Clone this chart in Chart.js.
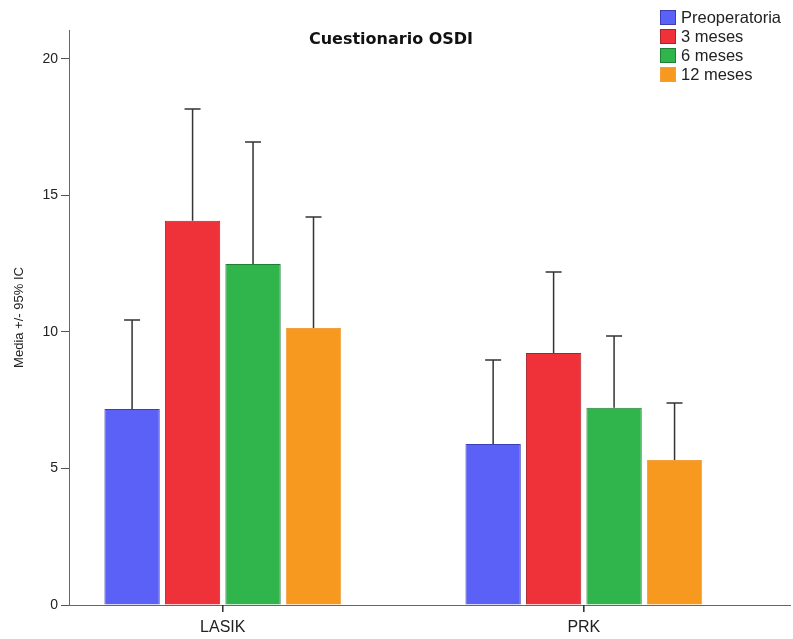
<!DOCTYPE html>
<html lang="es">
<head>
    <meta charset="UTF-8">
    <title>Cuestionario OSDI</title>
    <script src="https://cdn.jsdelivr.net/npm/chart.js"></script>
    <style>
        body { margin: 0; background: #fff; }
        #osdiChart { display: block; }
    </style>
</head>
<body>
<canvas id="osdiChart" width="793" height="639"></canvas>

<script>
    const groups = ['LASIK', 'PRK'];
    const series = ['Preoperatoria', '3 meses', '6 meses', '12 meses'];
    const preop = [7.18, 5.90];
    const mes3 = [14.07, 9.23];
    const mes6 = [12.49, 7.22];
    const mes12 = [10.15, 5.31];
    const preopUpper = [10.44, 8.97];
    const mes3Upper = [18.17, 12.20];
    const mes6Upper = [16.96, 9.85];
    const mes12Upper = [14.21, 7.40];
    const yTicks = [0, 5, 10, 15, 20];

    const fills = ['#5b60f6', '#ef323a', '#2fb54b', '#f8991f'];
    const borders = ['#3b3fb5', '#a8232a', '#1f7d34', '#f0a040'];

    const values = [preop, mes3, mes6, mes12];
    const uppers = [preopUpper, mes3Upper, mes6Upper, mes12Upper];

    // upper whisker of the 95% CI, drawn from the top of each bar
    const errorBars = {
        id: 'errorBars',
        afterDatasetsDraw(chart) {
            const ctx = chart.ctx;
            const y = chart.scales.y;
            ctx.save();
            ctx.strokeStyle = '#333';
            ctx.lineWidth = 1.5;
            chart.data.datasets.forEach((ds, i) => {
                const meta = chart.getDatasetMeta(i);
                meta.data.forEach((bar, j) => {
                    const top = y.getPixelForValue(uppers[i][j]);
                    ctx.beginPath();
                    ctx.moveTo(bar.x, bar.y);
                    ctx.lineTo(bar.x, top);
                    ctx.moveTo(bar.x - 8, top);
                    ctx.lineTo(bar.x + 8, top);
                    ctx.stroke();
                });
            });
            ctx.restore();
        }
    };

    const extras = {
        id: 'extras',
        afterDraw(chart) {
            const ctx = chart.ctx;
            const x = chart.scales.x;
            const bottom = chart.chartArea.bottom;
            ctx.save();

            // category tick marks under the x axis
            ctx.strokeStyle = '#333';
            ctx.lineWidth = 1.5;
            groups.forEach((g, j) => {
                const px = x.getPixelForValue(j);
                ctx.beginPath();
                ctx.moveTo(px, bottom);
                ctx.lineTo(px, bottom + 7);
                ctx.stroke();
            });

            ctx.fillStyle = '#111';
            ctx.font = 'bold 16px "DejaVu Sans", Verdana, sans-serif';
            ctx.textAlign = 'center';
            ctx.textBaseline = 'middle';
            ctx.fillText('Cuestionario OSDI', 391, 40);

            // legend, top right
            ctx.font = '16.5px "Liberation Sans", Arial, sans-serif';
            ctx.textAlign = 'left';
            series.forEach((name, i) => {
                const top = 10 + i * 19;
                ctx.fillStyle = fills[i];
                ctx.fillRect(660, top, 16, 15);
                ctx.strokeStyle = borders[i];
                ctx.lineWidth = 1;
                ctx.strokeRect(660.5, top + 0.5, 15, 14);
                ctx.fillStyle = '#222';
                ctx.fillText(name, 681, top + 8);
            });
            ctx.restore();
        }
    };

    new Chart(document.getElementById('osdiChart'), {
        type: 'bar',
        data: {
            datasets: series.map((name, i) => ({
                label: name,
                data: groups.map((g, j) => ({ x: j, y: values[i][j] })),
                backgroundColor: fills[i],
                borderColor: borders[i],
                borderWidth: 1,
                barPercentage: 0.915,
                categoryPercentage: 0.67
            }))
        },
        options: {
            responsive: false,
            animation: false,
            layout: { padding: { top: 30, right: 3, left: 0, bottom: 0 } },
            plugins: {
                legend: { display: false },
                tooltip: { enabled: false }
            },
            scales: {
                x: {
                    type: 'linear',
                    offset: false,
                    min: -0.426,
                    max: 1.571,
                    afterBuildTicks: s => { s.ticks = groups.map((g, j) => ({ value: j })); },
                    afterFit: s => { s.height = 34; },
                    grid: { offset: false, drawOnChartArea: false, drawTicks: true, tickLength: 7, color: '#555' },
                    border: { color: '#666', width: 1 },
                    ticks: {
                        callback: v => groups[v],
                        color: '#222',
                        font: { family: '"Liberation Sans", Arial, sans-serif', size: 16 },
                        padding: 6
                    }
                },
                y: {
                    min: 0,
                    max: 21.06,
                    afterBuildTicks: s => { s.ticks = yTicks.map(v => ({ value: v })); },
                    afterFit: s => { s.width = 69; },
                    grid: { drawOnChartArea: false, drawTicks: true, tickLength: 8, color: '#555' },
                    border: { color: '#666', width: 1 },
                    ticks: {
                        color: '#222',
                        font: { family: '"Liberation Sans", Arial, sans-serif', size: 14 },
                        padding: 3
                    },
                    title: {
                        display: true,
                        text: 'Media +/- 95% IC',
                        color: '#222',
                        font: { family: '"Liberation Sans", Arial, sans-serif', size: 13 },
                        padding: { top: 12, bottom: 4 }
                    }
                }
            }
        },
        plugins: [errorBars, extras]
    });
</script>
</body>
</html>
